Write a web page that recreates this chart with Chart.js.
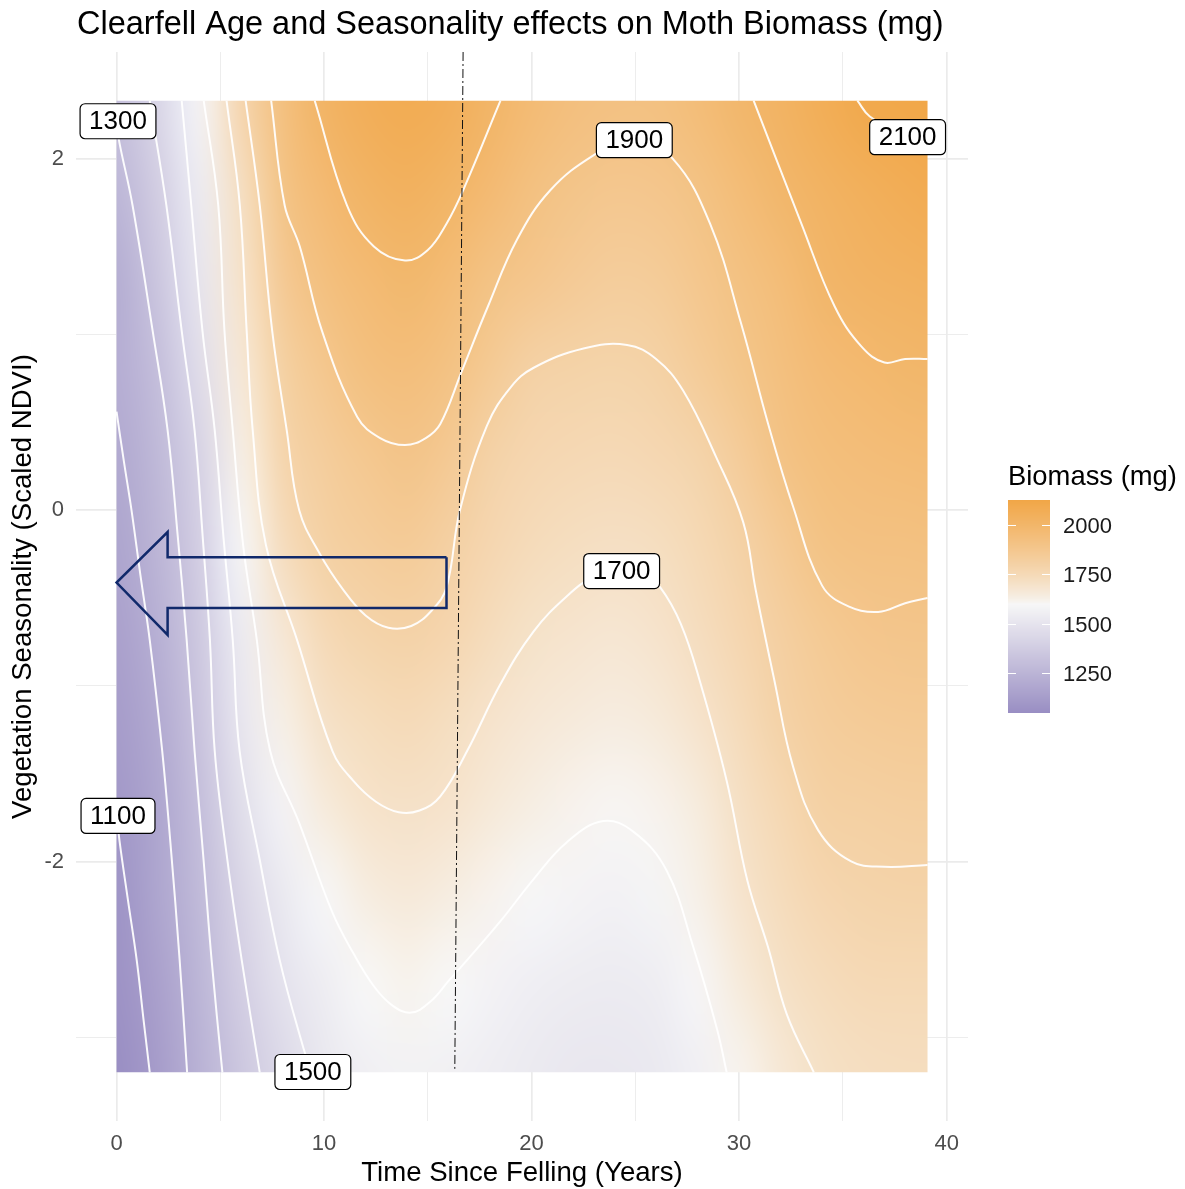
<!DOCTYPE html>
<html lang="en">
<head>
<meta charset="UTF-8">
<title>Clearfell Age and Seasonality effects on Moth Biomass (mg)</title>
<script src="https://cdn.jsdelivr.net/npm/chart.js"></script>
<style>
  html, body { margin: 0; padding: 0; background: #ffffff; }
  canvas { display: block; }
</style>
</head>
<body>
<canvas id="biomassChart" width="1185" height="1189"></canvas>
<script>
  // grid nodes of the fitted surface (columns = years, rows = scaled NDVI)
  const timeYears = [0, 2, 4, 6, 8, 10, 12, 14, 16, 18, 20, 22, 24, 26, 28, 30, 32, 34, 36, 38, 40];
  const seasonality = [2.3, 1.8, 1.3, 0.8, 0.3, -0.2, -0.7, -1.2, -1.7, -2.2, -2.7, -3.2];

  // biomass (mg) along each row
  const bio_y2_3  = [1305, 1426, 1581, 1776, 1926, 2015, 2060, 2080, 2060, 2008, 1965, 1930, 1915, 1920, 1950, 1990, 2025, 2065, 2103, 2115, 2125];
  const bio_y1_8  = [1256, 1381, 1535, 1714, 1898, 1968, 2015, 2036, 2012, 1968, 1920, 1890, 1874, 1880, 1905, 1948, 1991, 2025, 2050, 2070, 2085];
  const bio_y1_3  = [1209, 1343, 1506, 1692, 1857, 1925, 1965, 1989, 1955, 1905, 1880, 1850, 1832, 1840, 1875, 1912, 1950, 1998, 2020, 2032, 2040];
  const bio_y0_8  = [1213, 1299, 1462, 1662, 1808, 1875, 1925, 1941, 1912, 1855, 1802, 1792, 1788, 1799, 1840, 1885, 1925, 1960, 1980, 1995, 1998];
  const bio_y0_3  = [1190, 1274, 1411, 1628, 1777, 1830, 1870, 1893, 1860, 1795, 1770, 1758, 1752, 1762, 1785, 1837, 1902, 1935, 1945, 1955, 1960];
  const bio_ym0_2 = [1167, 1252, 1386, 1589, 1732, 1806, 1832, 1845, 1810, 1770, 1740, 1722, 1713, 1722, 1755, 1795, 1854, 1905, 1915, 1920, 1922];
  const bio_ym0_7 = [1145, 1225, 1358, 1537, 1668, 1750, 1785, 1797, 1775, 1735, 1700, 1685, 1676, 1690, 1725, 1770, 1815, 1855, 1880, 1886, 1888];
  const bio_ym1_2 = [1123, 1197, 1334, 1512, 1628, 1702, 1730, 1746, 1722, 1690, 1668, 1652, 1642, 1655, 1690, 1740, 1797, 1830, 1845, 1852, 1855];
  const bio_ym1_7 = [1100, 1172, 1301, 1467, 1576, 1650, 1693, 1702, 1690, 1660, 1635, 1615, 1605, 1615, 1645, 1708, 1760, 1805, 1812, 1818, 1820];
  const bio_ym2_2 = [1077, 1174, 1279, 1422, 1526, 1597, 1640, 1658, 1640, 1615, 1595, 1580, 1570, 1582, 1625, 1685, 1735, 1770, 1785, 1790, 1790];
  const bio_ym2_7 = [1070, 1145, 1256, 1386, 1491, 1548, 1600, 1614, 1598, 1575, 1555, 1540, 1535, 1548, 1592, 1650, 1703, 1735, 1750, 1755, 1755];
  const bio_ym3_2 = [1050, 1122, 1235, 1350, 1444, 1520, 1560, 1572, 1562, 1545, 1530, 1518, 1515, 1525, 1560, 1612, 1665, 1705, 1720, 1725, 1725];
  const biomassRows = [bio_y2_3, bio_y1_8, bio_y1_3, bio_y0_8, bio_y0_3, bio_ym0_2, bio_ym0_7,
                       bio_ym1_2, bio_ym1_7, bio_ym2_2, bio_ym2_7, bio_ym3_2];

  // extent of the predicted surface
  const heatX = [0, 39.08];
  const heatY = [-3.2, 2.33];

  // contour lines every 100 mg, [years, NDVI] pairs
  const c1100 = [[0,-1.72],[0.14,-1.88],[0.55,-2.22],[0.97,-2.56],[1.3,-2.9],[1.6,-3.2]];
  const c1200 = [[0,0.56],[0.35,0.28],[0.72,0],[1.15,-0.37],[1.6,-0.74],[2.2,-1.37],[2.6,-1.9],[3.04,-2.56],[3.4,-3.2]];
  const c1300 = [[0,2.2],[0.14,2.09],[0.77,1.735],[1.74,1.02],[2.46,0.455],[2.95,-0.15],[3.38,-0.74],[3.76,-1.37],[4.2,-2.0],[4.58,-2.56],[5.1,-3.2]];
  const c1400 = [[1.6,2.33],[2.4,1.735],[3.14,1.02],[3.76,0.455],[4.15,-0.15],[4.5,-0.74],[4.73,-1.37],[5.35,-2.0],[6.03,-2.56],[6.9,-3.2]];
  const c1500 = [[3.14,2.33],[3.6,1.735],[4.14,1.02],[4.73,0.455],[5.15,-0.15],[5.6,-0.74],[5.93,-1.37],[6.9,-1.99],[7.86,-2.56],[9.0,-3.06],[9.4,-3.2]];
  const c1600 = [[4.2,2.33],[4.9,1.735],[5.2,1.02],[5.6,0.455],[6.1,-0.2],[6.76,-0.74],[7.4,-1.37],[8.8,-1.78],[10.4,-2.29],[11.4,-2.52],
                 [12.4,-2.71],[13.3,-2.82],[14.2,-2.86],[15.1,-2.8],[16.0,-2.68],[16.9,-2.56],[18.5,-2.34],[20.1,-2.1],[21.7,-1.89],
                 [23.45,-1.77],[24.9,-1.83],[26.5,-2.05],[27.8,-2.49],[28.95,-2.96],[29.4,-3.2]];
  const c1700 = [[5.3,2.33],[5.94,1.735],[6.27,1.02],[6.56,0.455],[7.2,-0.2],[8.7,-0.74],[10.4,-1.37],[11.4,-1.54],[12.5,-1.66],
                 [13.6,-1.72],[14.6,-1.71],[15.6,-1.63],[16.9,-1.37],[18.5,-0.99],[20.1,-0.69],[21.7,-0.49],[23.0,-0.38],[24.3,-0.35],
                 [25.5,-0.38],[26.2,-0.44],[27.2,-0.65],[28.1,-0.97],[29.4,-1.54],[30.4,-2.11],[31.4,-2.49],[32.3,-2.87],[33.6,-3.2]];
  const c1800 = [[6.22,2.33],[6.9,1.735],[7.5,1.02],[8.2,0.455],[8.8,0.0],[9.8,-0.25],[10.9,-0.45],[12.0,-0.6],[13.1,-0.67],[14.2,-0.66],
                 [15.2,-0.57],[15.9,-0.44],[16.55,0.0],[17.85,0.48],[19.0,0.7],[20.1,0.81],[22.5,0.92],[24.6,0.94],[26.0,0.86],[27.3,0.68],
                 [28.9,0.30],[30.2,-0.07],[30.8,-0.455],[31.7,-0.97],[32.6,-1.46],[33.8,-1.82],[35.4,-2.0],[37.0,-2.03],[39.08,-2.02]];
  const c1900 = [[7.45,2.33],[8.1,1.735],[8.83,1.5],[9.9,1.02],[11.6,0.53],[12.7,0.41],[13.9,0.37],[14.9,0.41],[15.6,0.49],[16.6,0.78],
                 [17.9,1.16],[19.3,1.54],[20.9,1.82],[23.0,2.02],[24.9,2.12],[26.8,2.0],[28.6,1.63],[30.1,1.06],[31.4,0.49],[32.6,0.02],
                 [34.0,-0.43],[35.3,-0.55],[36.7,-0.58],[38.0,-0.53],[39.08,-0.5]];
  const c2000a = [[9.55,2.33],[11.1,1.735],[12.4,1.5],[13.9,1.42],[15.0,1.48],[15.9,1.63],[16.7,1.82],[18.5,2.33]];
  const c2000b = [[30.7,2.33],[33.0,1.63],[34.6,1.16],[35.9,0.93],[37.0,0.84],[38.0,0.86],[39.08,0.86]];
  const c2100 = [[35.7,2.33],[36.3,2.24],[38.1,2.12],[39.08,2.08]];
  const contourLines = [c1100, c1200, c1300, c1400, c1500, c1600, c1700, c1800, c1900, c2000a, c2000b, c2100];

  // contour labels
  const labelText = ['1300', '1900', '2100', '1700', '1100', '1500'];
  const labelX = [0.07, 24.95, 38.12, 24.34, 0.07, 9.46];
  const labelY = [2.213, 2.105, 2.122, -0.347, -1.741, -3.198];

  // arrow outline and the dash-dot marker
  const arrowX = [15.9, 2.46, 2.46, 0, 2.46, 2.46, 15.9, 15.9];
  const arrowY = [-0.268, -0.268, -0.125, -0.413, -0.711, -0.558, -0.558, -0.268];
  const markX = [16.7, 16.3];
  const markY = [2.607, -3.18];

  // axes and legend
  const xLimits = [-1.954, 41.03];
  const yLimits = [-3.477, 2.607];
  const xBreaks = [0, 5, 10, 15, 20, 25, 30, 35, 40];
  const yBreaks = [-3, -2, -1, 0, 1, 2];
  const legendBreaks = [1250, 1500, 1750, 2000];
  const legendRange = [1047, 2127];

  const FONT = "'Liberation Sans', Arial, sans-serif";
  const lowCol = [153, 142, 195], midCol = [247, 247, 247], highCol = [241, 163, 64];
  const midpoint = 1600, halfSpan = 552;

  function fillColour(v) {
    let t = (v - midpoint) / halfSpan;
    t = Math.max(-1, Math.min(1, t));
    const end = t < 0 ? lowCol : highCol;
    const k = t < 0 ? -t : Math.pow(t, 0.8);
    return midCol.map((m, i) => Math.round(m + (end[i] - m) * k));
  }

  const heatmapPlugin = {
    id: 'heatmap',
    beforeDatasetsDraw(chart) {
      const { ctx, scales: { x, y } } = chart;
      const off = document.createElement('canvas');
      off.width = timeYears.length;
      off.height = seasonality.length;
      const octx = off.getContext('2d');
      const img = octx.createImageData(off.width, off.height);
      biomassRows.forEach((row, j) => row.forEach((v, i) => {
        const c = fillColour(v), p = (j * off.width + i) * 4;
        img.data[p] = c[0]; img.data[p + 1] = c[1]; img.data[p + 2] = c[2]; img.data[p + 3] = 255;
      }));
      octx.putImageData(img, 0, 0);

      const dx = timeYears[1] - timeYears[0];
      const dy = seasonality[0] - seasonality[1];
      const left = x.getPixelForValue(timeYears[0] - dx / 2);
      const right = x.getPixelForValue(timeYears[timeYears.length - 1] + dx / 2);
      const top = y.getPixelForValue(seasonality[0] + dy / 2);
      const bottom = y.getPixelForValue(seasonality[seasonality.length - 1] - dy / 2);

      const cl = x.getPixelForValue(heatX[0]), cr = x.getPixelForValue(heatX[1]);
      const ct = y.getPixelForValue(heatY[1]), cb = y.getPixelForValue(heatY[0]);
      ctx.save();
      ctx.beginPath();
      ctx.rect(cl, ct, cr - cl, cb - ct);
      ctx.clip();
      ctx.imageSmoothingEnabled = true;
      ctx.imageSmoothingQuality = 'high';
      ctx.drawImage(off, left, top, right - left, bottom - top);
      ctx.restore();
    }
  };

  function roundBox(ctx, x, y, w, h, r) {
    ctx.beginPath();
    ctx.moveTo(x + r, y);
    ctx.lineTo(x + w - r, y);
    ctx.arcTo(x + w, y, x + w, y + r, r);
    ctx.lineTo(x + w, y + h - r);
    ctx.arcTo(x + w, y + h, x + w - r, y + h, r);
    ctx.lineTo(x + r, y + h);
    ctx.arcTo(x, y + h, x, y + h - r, r);
    ctx.lineTo(x, y + r);
    ctx.arcTo(x, y, x + r, y, r);
    ctx.closePath();
  }

  const contourLabelPlugin = {
    id: 'contourLabels',
    afterDatasetsDraw(chart) {
      const { ctx, scales: { x, y } } = chart;
      ctx.save();
      ctx.font = '26px ' + FONT;
      ctx.textAlign = 'center';
      ctx.textBaseline = 'middle';
      labelText.forEach((t, i) => {
        const cx = x.getPixelForValue(labelX[i]), cy = y.getPixelForValue(labelY[i]);
        const w = ctx.measureText(t).width + 18, h = 35;
        roundBox(ctx, cx - w / 2, cy - h / 2, w, h, 5);
        ctx.fillStyle = '#ffffff';
        ctx.fill();
        ctx.lineWidth = 1.2;
        ctx.strokeStyle = '#000000';
        ctx.stroke();
        ctx.fillStyle = '#000000';
        ctx.fillText(t, cx, cy + 1);
      });
      ctx.restore();
    }
  };

  const decorPlugin = {
    id: 'decor',
    afterDraw(chart) {
      const { ctx, chartArea } = chart;
      ctx.save();
      // title
      ctx.fillStyle = '#000000';
      ctx.font = '32.5px ' + FONT;
      ctx.textAlign = 'left';
      ctx.textBaseline = 'alphabetic';
      ctx.fillText('Clearfell Age and Seasonality effects on Moth Biomass (mg)', 77, 34);

      // axis titles
      ctx.font = '27.6px ' + FONT;
      ctx.textAlign = 'center';
      ctx.fillText('Time Since Felling (Years)', (chartArea.left + chartArea.right) / 2, 1181);
      ctx.save();
      ctx.translate(31, (chartArea.top + chartArea.bottom) / 2);
      ctx.rotate(-Math.PI / 2);
      ctx.fillText('Vegetation Seasonality (Scaled NDVI)', 0, 0);
      ctx.restore();

      // colour bar legend
      const barL = 1008, barW = 42, barT = 500, barB = 713;
      const toPy = v => barB - (v - legendRange[0]) / (legendRange[1] - legendRange[0]) * (barB - barT);
      ctx.textAlign = 'left';
      ctx.font = '27.4px ' + FONT;
      ctx.fillText('Biomass (mg)', 1008, 485);
      for (let py = barT; py < barB; py++) {
        const v = legendRange[1] - (py + 0.5 - barT) / (barB - barT) * (legendRange[1] - legendRange[0]);
        const c = fillColour(v);
        ctx.fillStyle = `rgb(${c[0]},${c[1]},${c[2]})`;
        ctx.fillRect(barL, py, barW, 1);
      }
      ctx.strokeStyle = '#ffffff';
      ctx.lineWidth = 1;
      ctx.font = '22px ' + FONT;
      ctx.textBaseline = 'middle';
      legendBreaks.forEach(b => {
        const py = Math.round(toPy(b)) + 0.5;
        ctx.beginPath();
        ctx.moveTo(barL, py); ctx.lineTo(barL + 8, py);
        ctx.moveTo(barL + barW - 8, py); ctx.lineTo(barL + barW, py);
        ctx.stroke();
        ctx.fillStyle = '#1a1a1a';
        ctx.fillText(String(b), 1063, py + 1);
      });
      ctx.restore();
    }
  };

  const toPoints = (xs, ys) => xs.map((v, i) => ({ x: v, y: ys[i] }));

  const datasets = [
    {
      label: 'arrow',
      data: toPoints(arrowX, arrowY),
      showLine: true,
      borderColor: '#10296b',
      borderWidth: 2.5,
      pointRadius: 0,
      tension: 0
    },
    {
      label: 'marker',
      data: toPoints(markX, markY),
      showLine: true,
      borderColor: '#111111',
      borderWidth: 1,
      borderDash: [9, 3, 2, 3],
      pointRadius: 0,
      tension: 0
    }
  ].concat(contourLines.map((pts, i) => ({
    label: 'contour ' + i,
    data: pts.map(p => ({ x: p[0], y: p[1] })),
    showLine: true,
    borderColor: 'rgba(255,255,255,0.93)',
    borderWidth: 2,
    pointRadius: 0,
    tension: 0.4
  })));

  Chart.defaults.font.family = FONT;

  new Chart(document.getElementById('biomassChart'), {
    type: 'scatter',
    data: { datasets: datasets },
    options: {
      responsive: false,
      animation: false,
      events: [],
      layout: { padding: { top: 52, right: 217, left: 0, bottom: 0 } },
      plugins: {
        legend: { display: false },
        tooltip: { enabled: false },
        title: { display: false }
      },
      scales: {
        x: {
          type: 'linear',
          min: xLimits[0],
          max: xLimits[1],
          afterFit(s) { s.height = 68; },
          afterBuildTicks(s) { s.ticks = xBreaks.map(v => ({ value: v })); },
          border: { display: false },
          grid: {
            color: '#ebebeb',
            lineWidth: c => (c.tick && c.tick.value % 10 === 0) ? 1.7 : 0.9,
            drawTicks: false
          },
          ticks: {
            padding: 10,
            color: '#4d4d4d',
            font: { size: 22 },
            maxRotation: 0,
            autoSkip: false,
            callback: v => (v % 10 === 0 ? String(v) : '')
          }
        },
        y: {
          type: 'linear',
          min: yLimits[0],
          max: yLimits[1],
          afterFit(s) { s.width = 76; },
          afterBuildTicks(s) { s.ticks = yBreaks.map(v => ({ value: v })); },
          border: { display: false },
          grid: {
            color: '#ebebeb',
            lineWidth: c => (c.tick && c.tick.value % 2 === 0) ? 1.7 : 0.9,
            drawTicks: false
          },
          ticks: {
            padding: 12,
            color: '#4d4d4d',
            font: { size: 22 },
            autoSkip: false,
            callback: v => (v % 2 === 0 ? String(v) : '')
          }
        }
      }
    },
    plugins: [heatmapPlugin, contourLabelPlugin, decorPlugin]
  });
</script>
</body>
</html>
